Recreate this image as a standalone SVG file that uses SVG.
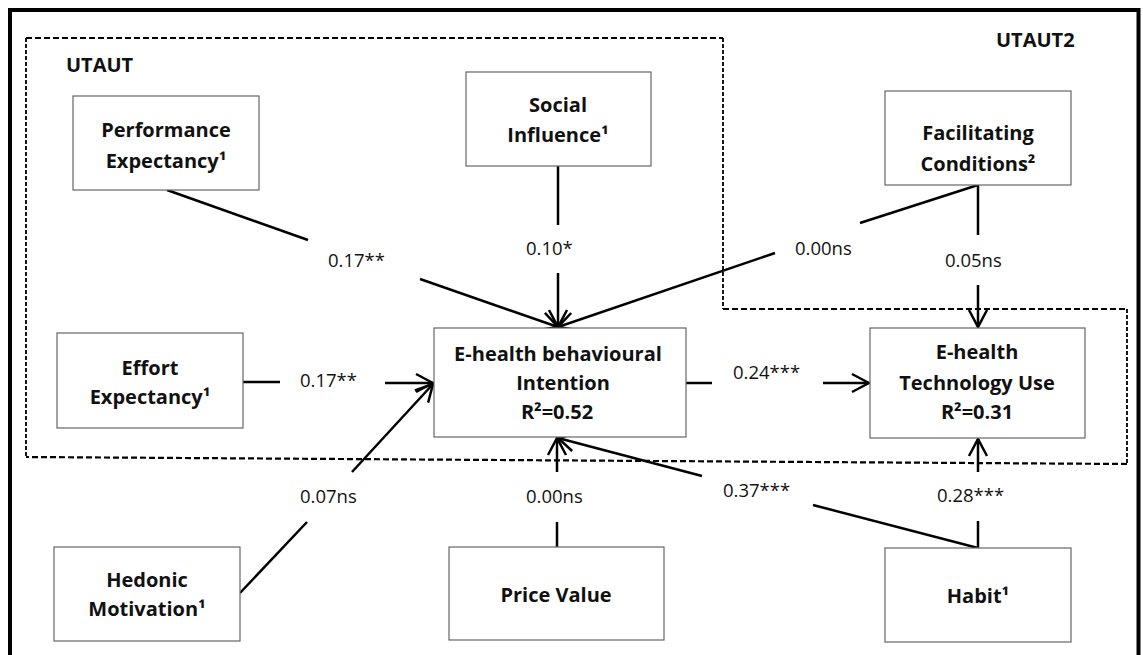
<svg xmlns="http://www.w3.org/2000/svg" width="1143" height="655" viewBox="0 0 1143 655">
<defs>
<style>
.box{fill:#fff;stroke:#666;stroke-width:1.2}
.t{font-family:"Open Sans","Liberation Sans",sans-serif;font-weight:bold;font-size:20px;fill:#111;text-anchor:middle}
.lbl{font-family:"Open Sans","Liberation Sans",sans-serif;font-size:18.5px;fill:#111}
.c{stroke:#000;stroke-width:2.5;fill:none}
.dash{stroke:#000;stroke-width:2.2;fill:none;stroke-dasharray:6 3}
.dashv{stroke:#000;stroke-width:1.8;fill:none;stroke-dasharray:4 2}
</style>
<marker id="arr" markerUnits="userSpaceOnUse" viewBox="-20 -11 22 22" refX="0" refY="0" markerWidth="22" markerHeight="22" orient="auto">
<path d="M-17,-9 L0,0 L-17,9" fill="none" stroke="#000" stroke-width="2.5"/>
</marker>
</defs>
<rect x="0" y="0" width="1143" height="655" fill="#fff"/>
<rect x="10" y="10" width="1128.5" height="660" fill="none" stroke="#000" stroke-width="4"/>
<g id="frames">
<path class="dash" d="M26,38 L723,38"/>
<path class="dashv" d="M26,38 L26,457"/>
<path class="dashv" d="M723,38 L723,309"/>
<path class="dash" d="M723,309 L1127,309"/>
<path class="dashv" d="M1127,309 L1127,464"/>
<path class="dash" d="M1127,464 L26,457"/>
<text class="t" x="66" y="72" style="text-anchor:start">UTAUT</text>
<text class="t" x="996" y="47" style="text-anchor:start">UTAUT2</text>
</g>
<g id="connectors">
<path class="c" d="M167,190 L308,240"/>
<path class="c" d="M420,279 L558,327" marker-end="url(#arr)"/>
<text class="lbl" x="328" y="267">0.17**</text>
<path class="c" d="M558,166 L558,225"/>
<path class="c" d="M558,273 L558,327" marker-end="url(#arr)"/>
<text class="lbl" x="526" y="255">0.10*</text>
<path class="c" d="M978,185 L860,223"/>
<path class="c" d="M775,253 L558,327" marker-end="url(#arr)"/>
<text class="lbl" x="795" y="255">0.00ns</text>
<path class="c" d="M978,185 L978,235"/>
<path class="c" d="M978,285 L978,327" marker-end="url(#arr)"/>
<text class="lbl" x="945" y="267">0.05ns</text>
<path class="c" d="M243,382 L280,382"/>
<path class="c" d="M385,383 L433,383" marker-end="url(#arr)"/>
<text class="lbl" x="300" y="387">0.17**</text>
<path class="c" d="M686,383 L712,383"/>
<path class="c" d="M823,383 L869,383" marker-end="url(#arr)"/>
<text class="lbl" x="733" y="379">0.24***</text>
<path class="c" d="M240,593 L307,522"/>
<path class="c" d="M352,472 L433,384" marker-end="url(#arr)"/>
<text class="lbl" x="300" y="503">0.07ns</text>
<path class="c" d="M557,547 L557,522"/>
<path class="c" d="M557,472 L557,438" marker-end="url(#arr)"/>
<text class="lbl" x="526" y="503">0.00ns</text>
<path class="c" d="M978,548 L813,505"/>
<path class="c" d="M702,476 L558,438" marker-end="url(#arr)"/>
<text class="lbl" x="723" y="497">0.37***</text>
<path class="c" d="M978,548 L978,521"/>
<path class="c" d="M978,472 L978,439" marker-end="url(#arr)"/>
<text class="lbl" x="937" y="502">0.28***</text>
</g>
<g id="pe">
<rect class="box" x="73" y="96" width="186" height="94"/>
<text class="t" x="166" y="137">Performance</text>
<text class="t" x="166" y="168">Expectancy¹</text>
</g>
<g id="si">
<rect class="box" x="466" y="72" width="185" height="94"/>
<text class="t" x="558" y="112">Social</text>
<text class="t" x="558" y="142">Influence¹</text>
</g>
<g id="fc">
<rect class="box" x="885" y="91" width="186" height="94"/>
<text class="t" x="978" y="140">Facilitating</text>
<text class="t" x="978" y="171">Conditions²</text>
</g>
<g id="ee">
<rect class="box" x="57" y="333" width="186" height="95"/>
<text class="t" x="150" y="375">Effort</text>
<text class="t" x="150" y="404">Expectancy¹</text>
</g>
<g id="bi">
<rect class="box" x="434" y="328" width="252" height="109"/>
<text class="t" x="558" y="361">E-health behavioural</text>
<text class="t" x="563" y="390">Intention</text>
<text class="t" x="557" y="419">R²=0.52</text>
</g>
<g id="tu">
<rect class="box" x="870" y="328" width="215" height="110"/>
<text class="t" x="977" y="359">E-health</text>
<text class="t" x="977" y="390">Technology Use</text>
<text class="t" x="977" y="419">R²=0.31</text>
</g>
<g id="hm">
<rect class="box" x="54" y="547" width="186" height="94"/>
<text class="t" x="147" y="587">Hedonic</text>
<text class="t" x="147" y="616">Motivation¹</text>
</g>
<g id="pv">
<rect class="box" x="449" y="547" width="215" height="93"/>
<text class="t" x="556" y="602">Price Value</text>
</g>
<g id="habit">
<rect class="box" x="885" y="548" width="186" height="94"/>
<text class="t" x="978" y="603">Habit¹</text>
</g>
</svg>
